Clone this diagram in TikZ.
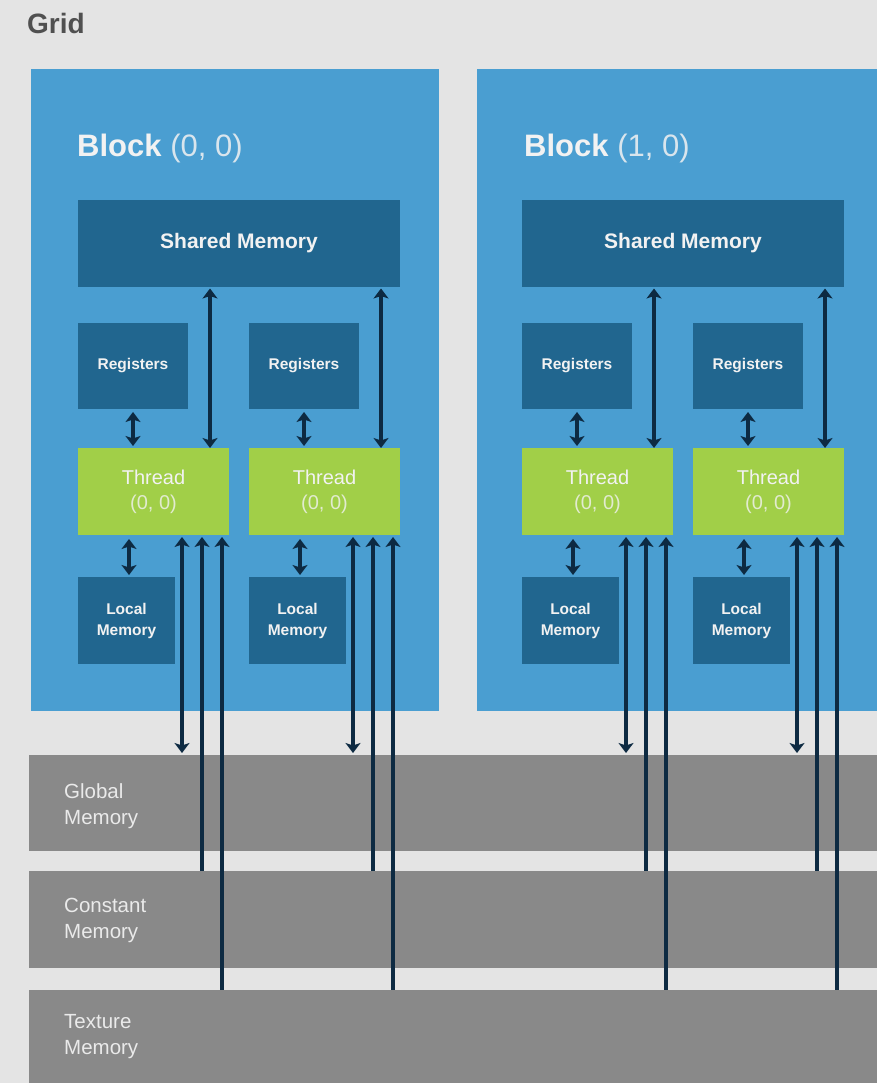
\documentclass[tikz,border=0pt]{standalone}
\usepackage{fontspec}
\setmainfont{Liberation Sans}
\usetikzlibrary{arrows.meta}

\definecolor{pagebg}{HTML}{E4E4E4}
\definecolor{blockblue}{HTML}{4A9ED1}
\definecolor{memblue}{HTML}{21668F}
\definecolor{threadgreen}{HTML}{A1CF48}
\definecolor{memgray}{HTML}{898989}
\definecolor{wire}{HTML}{0D2A42}
\definecolor{gridtext}{HTML}{505050}
\definecolor{softwhite}{HTML}{F2F2F2}

\tikzset{
  box/.style={anchor=north west, inner sep=0pt, outer sep=0pt, draw=none},
  blockbox/.style={box, fill=blockblue, minimum width=408pt, minimum height=642pt},
  darkbox/.style={box, fill=memblue, text=softwhite, align=center},
  sharedbox/.style={darkbox, minimum width=322pt, minimum height=87pt,
    font=\fontsize{21}{25}\selectfont\bfseries},
  regbox/.style={darkbox, minimum width=110pt, minimum height=86pt,
    font=\fontsize{15.5}{19}\selectfont\bfseries},
  localbox/.style={darkbox, minimum width=97pt, minimum height=87pt,
    font=\fontsize{15.5}{21}\selectfont\bfseries},
  threadbox/.style={box, fill=threadgreen, text=softwhite, align=center,
    minimum width=151pt, minimum height=87pt, font=\fontsize{20}{25}\selectfont},
  membar/.style={box, fill=memgray, minimum width=860pt},
  memlabel/.style={anchor=west, align=left, text=softwhite!92!memgray,
    font=\fontsize{20.5}{26}\selectfont, inner sep=0pt},
  wireline/.style={draw=wire, line width=3.2pt},
  tip/.style={Stealth[width=15pt,length=10pt,inset=2.5pt]},
  dbl/.style={wireline, {Stealth[width=15pt,length=10pt,inset=2.5pt]}-{Stealth[width=15pt,length=10pt,inset=2.5pt]}},
  sgl/.style={wireline, {Stealth[width=15pt,length=10pt,inset=2.5pt]}-},
}

\begin{document}
\begin{tikzpicture}[x=1pt,y=-1pt]
\clip (0,0) rectangle (877,1083);
\fill[pagebg] (0,0) rectangle (877,1083);

\node[anchor=base west, inner sep=0pt, text=gridtext,
  font=\fontsize{28}{32}\selectfont\bfseries] (grid) at (27,34) {Grid};

% device-wide memories
\node[membar, minimum height=96pt] (gm) at (29,755) {};
\node[membar, minimum height=97pt] (cm) at (29,871) {};
\node[membar, minimum height=100pt] (tm) at (29,990) {};
\node[memlabel] (gml) at (64,806) {Global\\Memory};
\node[memlabel] (cml) at (64,920) {Constant\\Memory};
\node[memlabel] (tml) at (64,1037) {Texture\\Memory};

% thread blocks
\foreach \b/\dx in {0/0,1/444}{
  \begin{scope}[xshift=\dx pt]
    \node[blockbox] (blk\b) at (31+\b*2,69) {};
    \node[anchor=base west, inner sep=0pt, text=softwhite,
      font=\fontsize{31}{36}\selectfont] (bt\b) at (77+\b*3,157)
      {\textbf{Block} \textcolor{softwhite!85!blockblue}{(\b, 0)}};
    \node[sharedbox] (sm\b) at (78,200) {Shared Memory};
    \foreach \t/\tx in {0/78,1/249}{
      \node[regbox] (r\b\t) at (\tx,323) {Registers};
      \node[threadbox] (t\b\t) at (\tx,448)
        {Thread\\\textcolor{softwhite!80!threadgreen}{(0, 0)}};
      \node[localbox] (l\b\t) at (\tx,577) {Local\\Memory};
      % registers <-> thread
      \draw[dbl, shorten <=3pt, shorten >=2pt]
        ([xshift=55pt]r\b\t.south west) -- ([xshift=55pt]t\b\t.north west);
      % shared memory <-> thread
      \draw[dbl, shorten <=1.5pt]
        ([xshift=132pt]t\b\t.north west |- sm\b.south) -- ([xshift=132pt]t\b\t.north west);
      % thread <-> local memory
      \draw[dbl, shorten <=4pt, shorten >=2pt]
        ([xshift=51pt]t\b\t.south west) -- ([xshift=51pt]t\b\t.south west |- l\b\t.north);
      % thread <-> global memory
      \draw[dbl, shorten <=2pt, shorten >=2pt]
        ([xshift=104pt]t\b\t.south west) -- ([xshift=104pt]t\b\t.south west |- gm.north);
      % thread <- constant memory
      \draw[sgl, shorten <=2pt]
        ([xshift=124pt]t\b\t.south west) -- ([xshift=124pt]t\b\t.south west |- cm.north);
      % thread <- texture memory
      \draw[sgl, shorten <=2pt]
        ([xshift=144pt]t\b\t.south west) -- ([xshift=144pt]t\b\t.south west |- tm.north);
    }
  \end{scope}
}
\end{tikzpicture}
\end{document}
